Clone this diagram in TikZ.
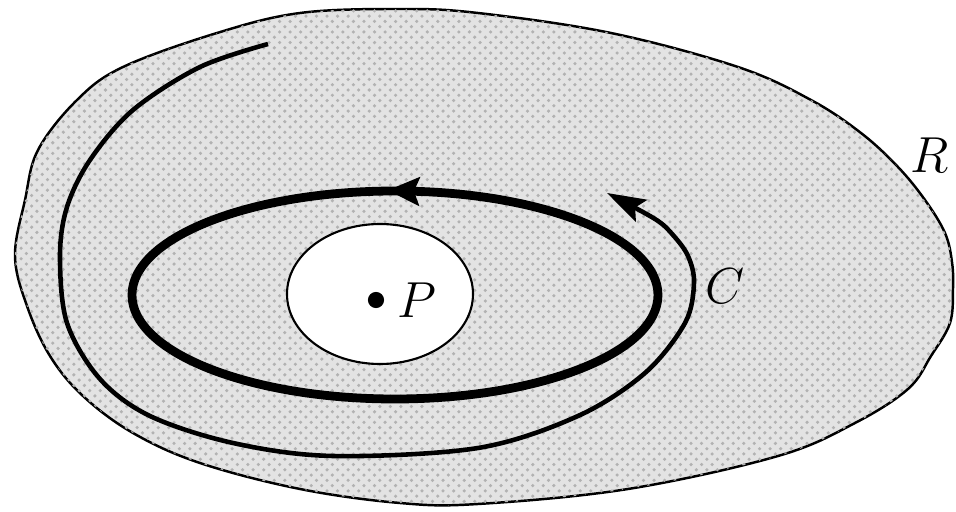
\documentclass[tikz,border=0pt]{standalone}
\usetikzlibrary{arrows.meta,decorations.markings,patterns}

\begin{document}
\begin{tikzpicture}[x=0.01cm, y=-0.01cm, >=Stealth,
    lab/.style={font=\fontsize{13.5}{16}\selectfont}]
        % --- 1. Parameters ---
        \def\ringRx{263}
        \def\ringRy{104}
        \def\holeRx{93}
        \def\holeRy{70}

        \useasboundingbox (0,0) rectangle (956,512);

        % --- 2. Region R ---
        \draw[line width=0.7pt, fill=black!11,
              postaction={pattern=crosshatch dots, pattern color=black!30}]
            plot[smooth cycle, tension=0.6] coordinates {
              (15,256) (25,200) (38,150) (77,100) (123,67) (217,33) (300,13)
              (400,9) (478,13) (611,33) (738,67) (811,100) (861,133) (898,167)
              (925,200) (945,233) (952,262) (953,289) (950,323) (931,356)
              (908,389) (855,423) (778,456) (628,489) (478,504) (400,503)
              (300,489) (200,463) (133,433) (83,396) (50,356) (27,306)};
        \node[lab] (Rlab) at (930,155) {$R$};

        % --- 3. Hole around P ---
        \coordinate (O) at (395,295);
        \coordinate (H) at (380,294);
        \draw[line width=0.6pt, fill=white] (H) ellipse ({\holeRx} and {\holeRy});

        \coordinate (P) at (376,300);
        \fill (P) circle (2.3pt);
        \node[lab, anchor=west] (Plab) at ([xshift=2.5pt]P) {$P$};

        % --- 4. Curve C (thick ellipse) ---
        \draw[line width=2.5pt,
              decoration={markings, mark=at position 0.77 with {\arrow{Stealth[length=9pt,width=8pt,inset=1.5pt,reversed]}}},
              postaction={decorate}]
            (O) ellipse ({\ringRx} and {\ringRy});

        % Spiral path with arrow
        \draw[line width=1.3pt, -{Stealth[length=11pt,width=7pt,inset=2pt]}]
            plot[smooth, tension=0.55] coordinates {
              (268,44) (200,67) (133,110) (90,160) (67,207) (60,256) (67,323)
              (100,379) (150,416) (233,443) (333,456) (478,448) (578,416)
              (645,373) (685,323) (694,283) (688,256) (673,235) (655,219)
              (607,193)};
        \node[lab] (Clab) at (725,286) {$C$};
    \end{tikzpicture}
\end{document}
